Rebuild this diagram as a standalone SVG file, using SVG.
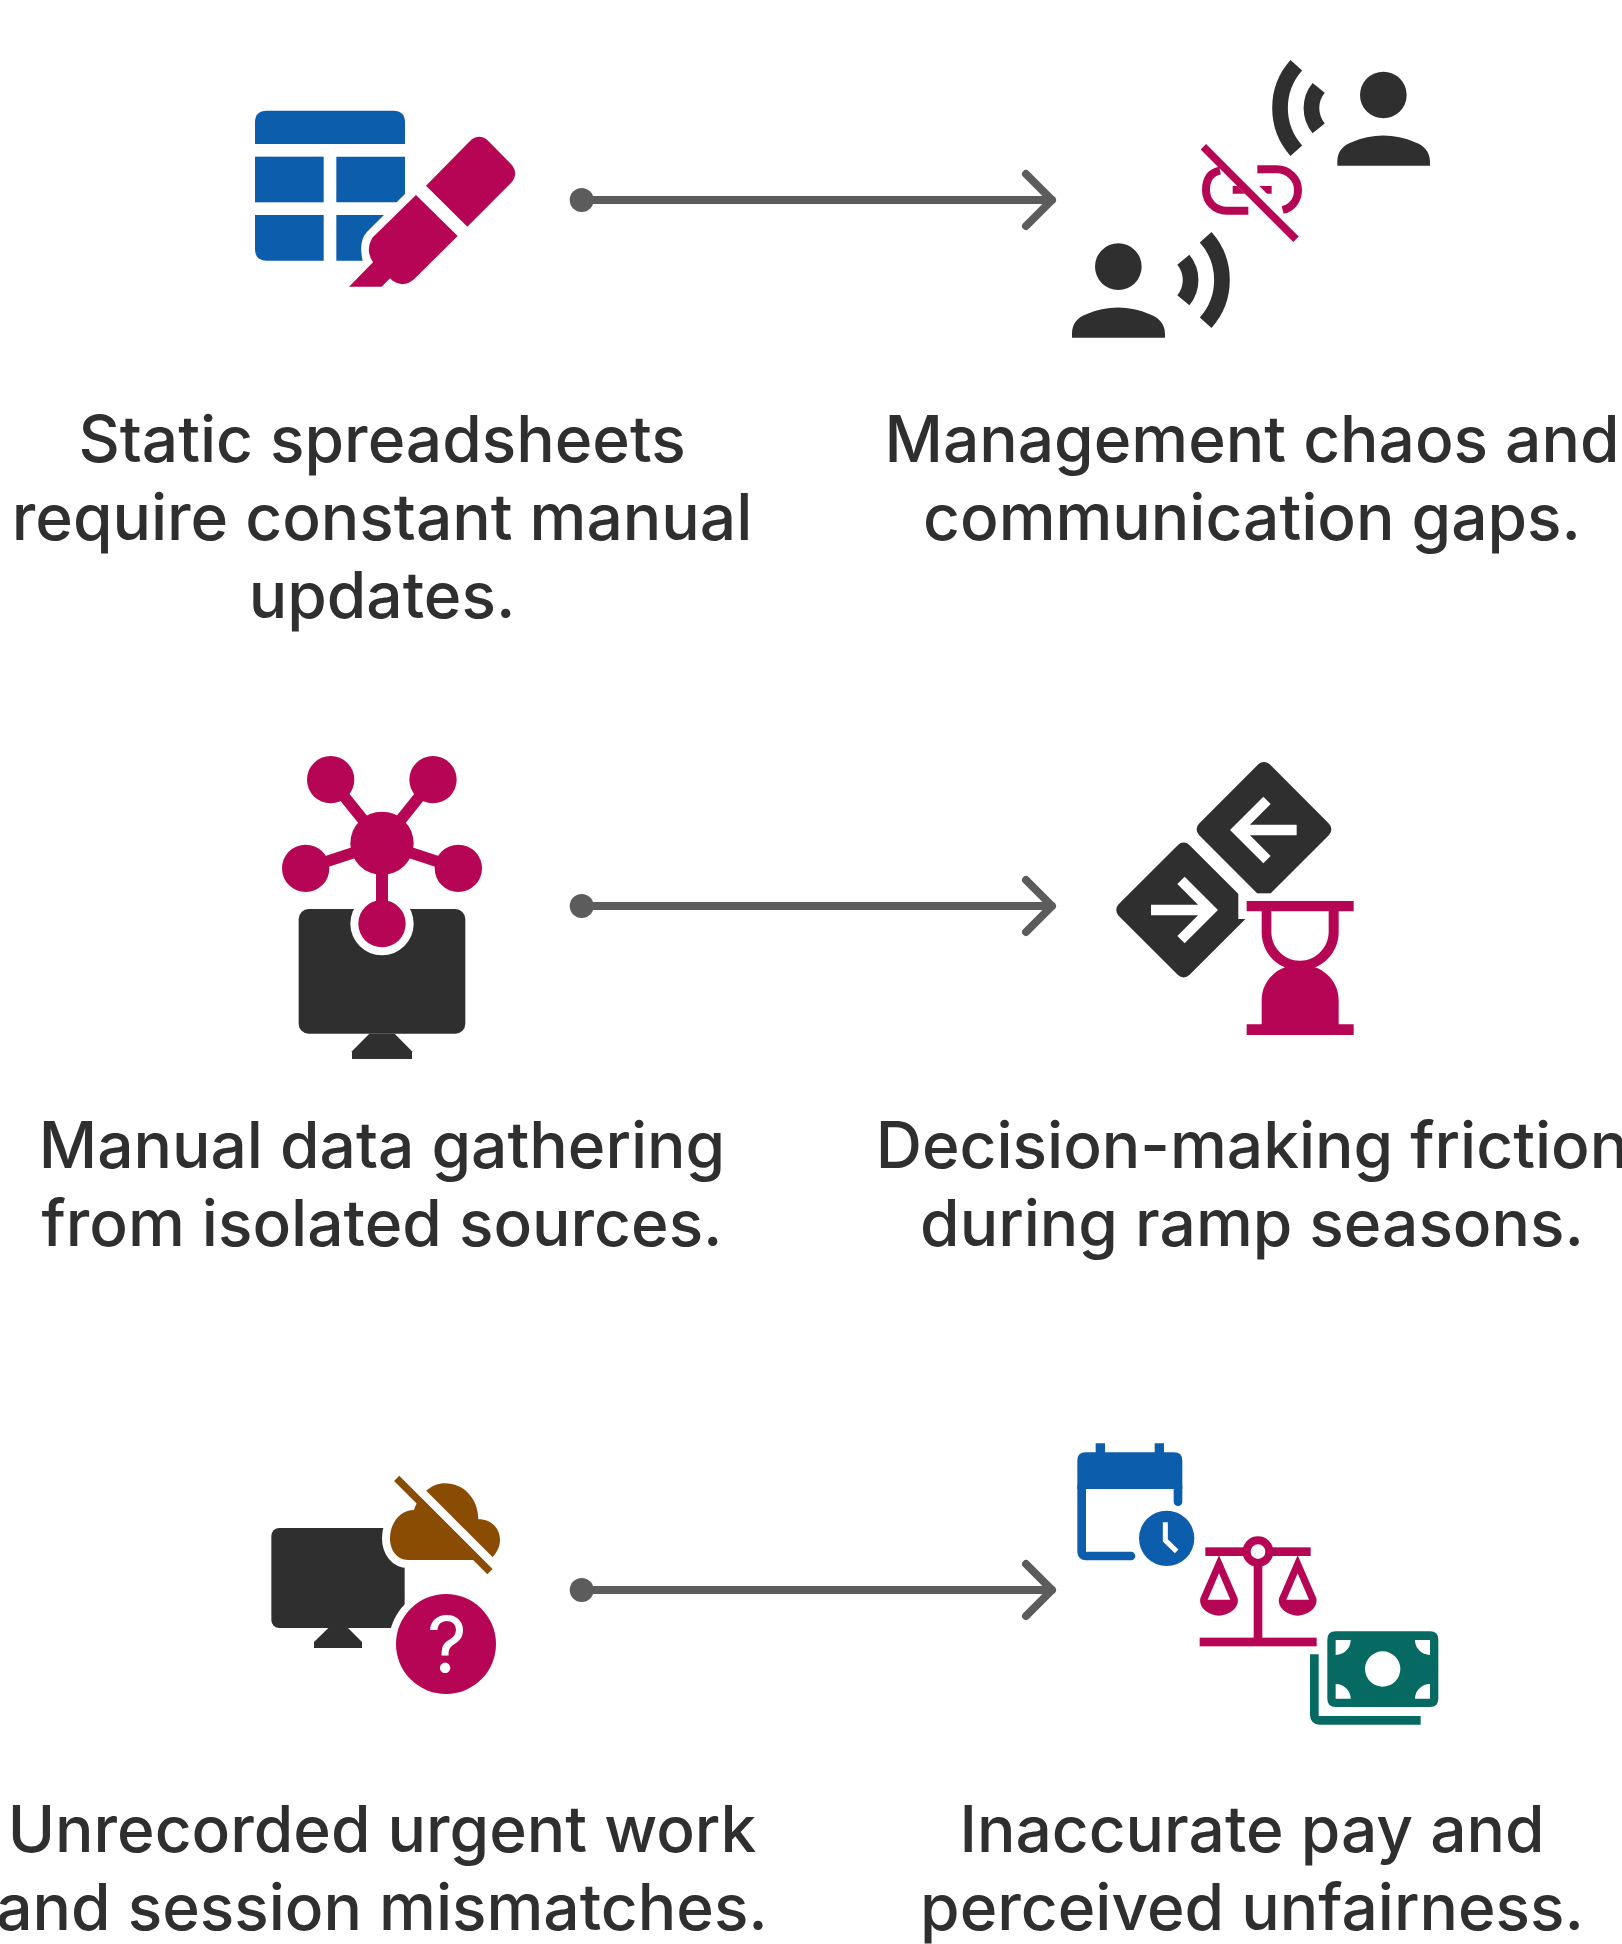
<svg xmlns="http://www.w3.org/2000/svg" width="1622" height="1944" viewBox="0 0 1622 1944">
<style>
.t{font-family:Inter,"Liberation Sans",sans-serif;font-size:64px;font-weight:450;fill:#2f2f2f;text-anchor:middle}
.b{fill:#0c5dab}.m{fill:#b60554}.d{fill:#2f2f2f}.br{fill:#8a4b03}.g{fill:#066a63}.w{fill:#fff}
.ln{fill:none;stroke:#5c5c5c;stroke-width:8;stroke-linecap:round;stroke-linejoin:round}
.dot{fill:#5c5c5c}
</style>
<rect width="1622" height="1944" fill="#fff"/>
<g id="connectors">
<circle class="dot" cx="581.7" cy="200" r="12"/><path class="ln" d="M582,200H1052M1026,174L1052,200L1026,226"/>
<circle class="dot" cx="581.7" cy="906" r="12"/><path class="ln" d="M582,906H1052M1026,880L1052,906L1026,932"/>
<circle class="dot" cx="581.7" cy="1590" r="12"/><path class="ln" d="M582,1590H1052M1026,1564L1052,1590L1026,1616"/>
</g>
<g id="node-spreadsheets">
<g transform="translate(230 90) scale(.33333)">
<path class="b" d="M75,162V97Q75,62 110,62H490Q525,62 525,97V162Z"/>
<rect class="b" x="75" y="200" width="206" height="137"/>
<path class="b" d="M319,200H525V312L500,337H319Z"/>
<path class="b" d="M75,375H281V512H110Q75,512 75,477Z"/>
<path class="b" d="M319,375H462L410,427Q385,455 398,512H319Z"/>
<path class="m" d="M588,287L712,410L843,279Q868,250 843,222L775,153Q748,128 720,153Z"/>
<path class="m" d="M558,315L683,438L552,568Q520,595 488,572L480,565L455,590H357L429,517Q405,480 427,443Z"/>
</g>
<text class="t" x="382" y="462">Static spreadsheets</text>
<text class="t" x="382" y="540">require constant manual</text>
<text class="t" x="382" y="618">updates.</text>
</g>
<g id="node-chaos">
<g transform="translate(1050 40) scale(.33333)">
<g class="d">
<circle cx="1000" cy="165" r="70"/>
<path d="M862,377V365C862,335 880,315 905,307C965,280 1035,280 1095,307C1120,315 1140,335 1140,365V377Z"/>
<circle cx="205" cy="680" r="70"/>
<path d="M66,893V881C66,851 84,831 109,823C169,796 239,796 299,823C324,831 345,851 345,881V893Z"/>
</g>
<g fill="none" stroke="#2f2f2f" stroke-width="47">
<path d="M739,76A192,192 0 0 0 739,332"/>
<path d="M806,143.500A96,96 0 0 0 806,265"/>
<path d="M467,592A192,192 0 0 1 467,848"/>
<path d="M400,659A96,96 0 0 1 400,781"/>
</g>
<g fill="none" stroke="#b60554" stroke-width="24">
<path d="M510,392Q468,400 468,450C468,485 495,512 530,512H595"/>
<path d="M622,388H680C715,388 744,415 744,450C744,482 725,503 698,510"/>
<path stroke-width="23" d="M460,320L738,598"/>
</g>
<path class="m" d="M548,438H562L585,461H548Z"/>
<path class="m" d="M628,438H665V461H651Z"/>
</g>
<text class="t" x="1252" y="462">Management chaos and</text>
<text class="t" x="1252" y="540">communication gaps.</text>
</g>
<g id="node-gathering">
<g transform="translate(260 740) scale(.33333)">
<rect class="d" x="116" y="507" width="500" height="374" rx="30"/>
<path class="d" d="M328,881H404L456,934V957H276V934Z"/>
<circle class="w" cx="366" cy="551" r="95"/>
<g stroke="#b60554" stroke-width="34">
<path d="M366,310L212,119M366,310L519,119M366,310L137,385M366,310L595,385"/>
<path stroke-width="36" d="M366,310V551"/>
</g>
<g class="m">
<circle cx="366" cy="310" r="95"/>
<circle cx="212" cy="119" r="71"/><circle cx="519" cy="119" r="71"/>
<circle cx="137" cy="385" r="71"/><circle cx="595" cy="385" r="71"/>
<circle cx="366" cy="551" r="71"/>
</g>
</g>
<text class="t" x="382" y="1168">Manual data gathering</text>
<text class="t" x="382" y="1246">from isolated sources.</text>
</g>
<g id="node-friction">
<g transform="translate(1100 750) scale(.33333)">
<rect class="d" x="342" y="88" width="300" height="300" rx="24" transform="rotate(45 492 238)"/>
<rect class="d" x="101" y="330" width="300" height="300" rx="24" transform="rotate(45 251 480)"/>
<rect class="w" x="415" y="430" width="355" height="77"/>
<g fill="none" stroke="#fff" stroke-width="31">
<path d="M590,240H415M501,151L412,240L501,329"/>
<path d="M153,480H329M243,391L332,480L243,569"/>
</g>
<path class="m" fill-rule="evenodd" d="M440,453H761V484H716V547C716,600 680,640 645,652C680,664 716,700 716,750V823H761V855H440V823H485V750C485,700 520,664 555,652C520,640 485,600 485,547V484H440ZM514,484V545C514,592 552,632 600,632C648,632 686,592 686,545V484Z"/>
</g>
<text class="t" x="1252" y="1168">Decision-making friction</text>
<text class="t" x="1252" y="1246">during ramp seasons.</text>
</g>
<g id="node-unrecorded">
<g transform="translate(260 1460) scale(.33333)">
<rect class="d" x="34" y="204" width="400" height="300" rx="24"/>
<path class="d" d="M205,504H264L306,546V564H162V546Z"/>
<path id="cloud" class="br" stroke="#fff" stroke-width="48" paint-order="stroke" d="M445,300C410,300 390,270 390,235C390,190 420,150 462,150C480,100 515,70 555,70C610,70 655,115 655,178C695,178 720,205 720,240C720,265 705,285 690,300Z"/>
<circle class="w" cx="558" cy="552" r="172"/>
<circle class="m" cx="558" cy="552" r="150"/>
<path d="M450,62L720,332" stroke="#fff" stroke-width="26"/>
<path d="M410,55L690,335" stroke="#8a4b03" stroke-width="22"/>
</g>
<text x="447" y="1673" font-family="Inter,'Liberation Sans',sans-serif" font-size="78" font-weight="400" fill="#fff" text-anchor="middle">?</text>
<text class="t" x="382" y="1852">Unrecorded urgent work</text>
<text class="t" x="382" y="1930">and session mismatches.</text>
</g>
<g id="node-inaccurate">
<g transform="translate(1060 1430) scale(.33333)">
<path class="b" d="M107,40H135V67H284V40H312V67H342Q367,67 367,92V177H52V92Q52,67 77,67H107Z"/>
<path d="M354,170V215M65,170V365Q65,378 78,378H213" fill="none" stroke="#0c5dab" stroke-width="26" stroke-linecap="round"/>
<circle class="b" cx="320" cy="325" r="83"/>
<path d="M316,277V331L350,364" fill="none" stroke="#fff" stroke-width="15"/>
<g class="m">
<rect x="436" y="352" width="125" height="26"/>
<rect x="627" y="352" width="125" height="26"/>
<path fill-rule="evenodd" d="M594,319A46,46 0 1 0 594,411A46,46 0 1 0 594,319ZM594,343A22,22 0 1 1 594,387A22,22 0 1 1 594,343Z"/>
<rect x="581" y="405" width="26" height="225"/>
<rect x="419" y="623" width="351" height="26"/>
<path fill-rule="evenodd" d="M477,376L421,505C415,535 450,557 477,557C504,557 539,535 533,505ZM477,430L443,509H511Z"/>
<path fill-rule="evenodd" d="M713,376L657,505C651,535 686,557 713,557C740,557 775,535 769,505ZM713,430L679,509H747Z"/>
</g>
<path class="g" fill-rule="evenodd" d="M827,604H1110Q1135,604 1135,629V806Q1135,831 1110,831H827Q802,831 802,806V629Q802,604 827,604ZM827,630V675A45,45 0 0 0 872,630ZM1110,630H1065A45,45 0 0 0 1110,675ZM827,806H872A45,45 0 0 0 827,762ZM1110,806V762A45,45 0 0 0 1065,806ZM968,664A53,53 0 1 0 968,770A53,53 0 1 0 968,664Z"/>
<path d="M763,673V855Q763,871 779,871H1082" fill="none" stroke="#066a63" stroke-width="26"/>
</g>
<text class="t" x="1252" y="1852">Inaccurate pay and</text>
<text class="t" x="1252" y="1930">perceived unfairness.</text>
</g>
</svg>
